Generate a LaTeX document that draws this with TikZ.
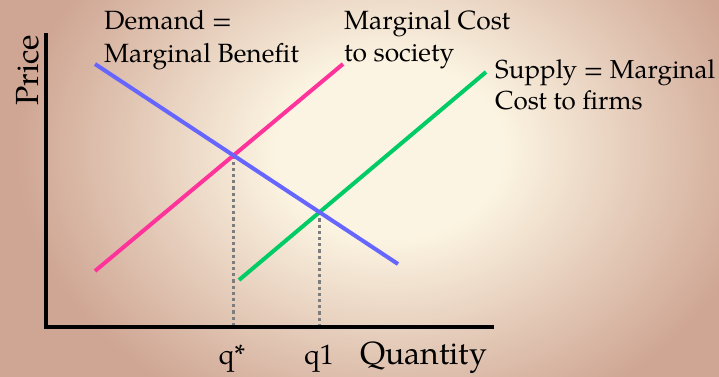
\documentclass[tikz,border=0pt]{standalone}
\usepackage{fontspec}
\setmainfont{TeX Gyre Pagella}
\usetikzlibrary{intersections}
\definecolor{bgin}{RGB}{252,244,226}
\definecolor{bgout}{RGB}{207,165,147}
\definecolor{demandblue}{RGB}{102,102,255}
\definecolor{societypink}{RGB}{255,51,153}
\definecolor{supplygreen}{RGB}{0,204,102}
\definecolor{dotgray}{RGB}{125,125,125}
\pgfdeclareradialshading{bgshade}{\pgfpoint{0bp}{0bp}}{color(0bp)=(bgin); color(6bp)=(bgin); color(20bp)=(bgout); color(50bp)=(bgout)}
\tikzset{
  curve/.style={line width=4pt},
  axisline/.style={line width=4pt, black},
  guide/.style={line width=3pt, dotgray, dash pattern=on 3.2pt off 3pt},
  lbl/.style={inner sep=0pt, font=\fontsize{26.4}{31}\selectfont, anchor=base west},
  ticklbl/.style={inner sep=0pt, font=\fontsize{28}{33}\selectfont, anchor=base},
  bigl/.style={inner sep=0pt, font=\fontsize{32}{38}\selectfont, anchor=base west}
}
\begin{document}
\begin{tikzpicture}[x=1pt,y=-1pt]
\useasboundingbox (0,0) rectangle (719,376);
\begin{scope}
\clip (0,0) rectangle (719,376);
\shade[shading=bgshade] (-79,-215) rectangle (859,515);
\end{scope}
% axes
\coordinate (ytop) at (46,33);
\coordinate (origin) at (46,327);
\coordinate (xend) at (494,327);
% curve end points
\coordinate (d1) at (95,64);
\coordinate (d2) at (398,264);
\coordinate (s1) at (95,271);
\coordinate (s2) at (343,64);
\coordinate (f1) at (239,280);
\coordinate (f2) at (486,72);
\path[name path=demand] (d1) -- (d2);
\path[name path=society] (s1) -- (s2);
\path[name path=firms] (f1) -- (f2);
\path[name intersections={of=demand and society, by=qstar}];
\path[name intersections={of=demand and firms, by=qone}];
% guides
\draw[guide] (qstar) -- (qstar |- origin);
\draw[guide] (qone) -- (qone |- origin);
% curves
\draw[curve, societypink] (s1) -- (s2);
\draw[curve, supplygreen] (f1) -- (f2);
\draw[curve, demandblue] (d1) -- (d2);
\draw[axisline] (ytop) -- (origin) -- (xend);
% labels
\node[lbl] (dem1) at (104,29) {Demand =};
\node[lbl] (dem2) at (104,62) {Marginal Benefit};
\node[lbl] (soc1) at (344,29) {Marginal Cost};
\node[lbl] (soc2) at (344,61) {to society};
\node[lbl, font=\fontsize{26}{31}\selectfont] (sup1) at (495,78) {Supply = Marginal};
\node[lbl, font=\fontsize{26}{31}\selectfont] (sup2) at (495,109) {Cost to firms};
\node[bigl, rotate=90] (price) at (38,106) {Price};
\node[ticklbl] (qsl) at (232,364) {q*};
\node[ticklbl] (q1l) at (319,364) {q1};
\node[bigl] (qty) at (360,364) {Quantity};
\end{tikzpicture}
\end{document}
